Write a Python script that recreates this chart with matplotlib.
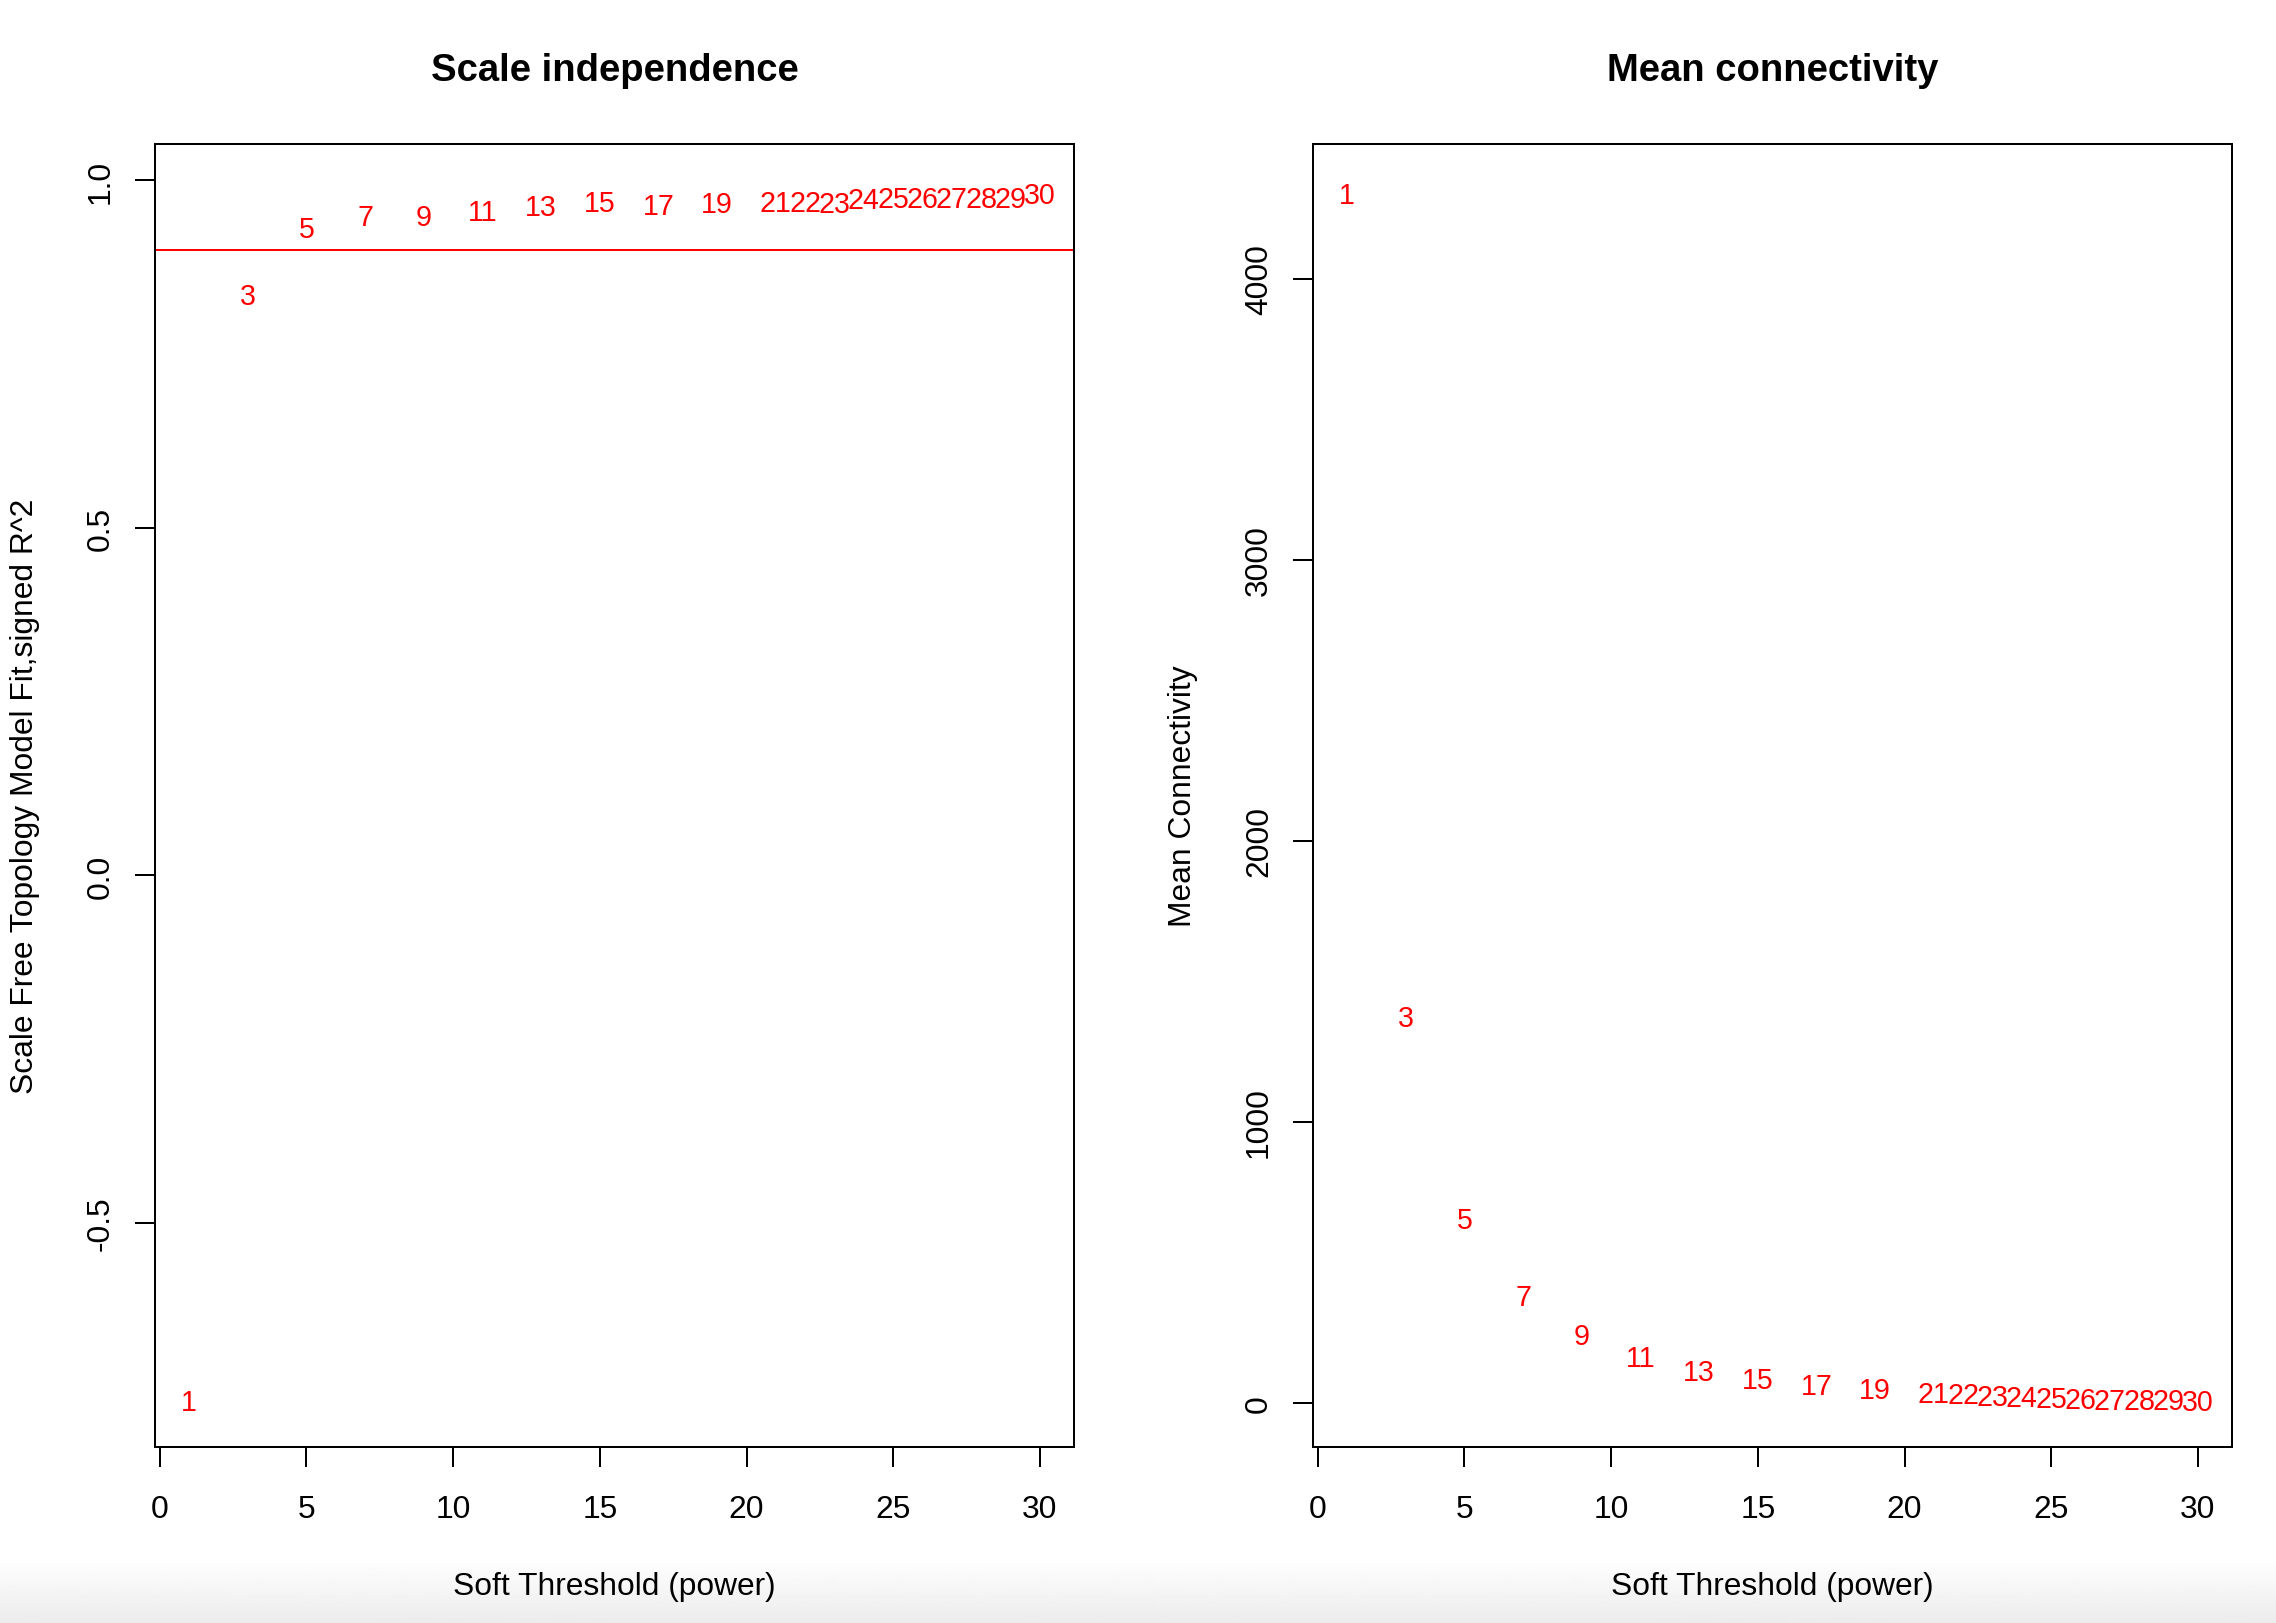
import matplotlib
matplotlib.use('Agg')
import matplotlib.pyplot as plt
import numpy as np

# ---- data ----
powers = [1, 3, 5, 7, 9, 11, 13, 15, 17, 19,
          21, 22, 23, 24, 25, 26, 27, 28, 29, 30]
scale_free_r2 = [-0.753, 0.838, 0.935, 0.952, 0.951, 0.959, 0.966, 0.972, 0.968, 0.970,
                 0.972, 0.972, 0.971, 0.976, 0.978, 0.977, 0.977, 0.978, 0.978, 0.983]
mean_connectivity = [4308, 1381, 661, 389, 248, 171, 121, 94, 71, 56,
                     42, 39, 32, 30, 24, 21, 18, 17, 16, 15]
r2_cutoff = 0.90

x_ticks = [0, 5, 10, 15, 20, 25, 30]
left_y_ticks = [-0.5, 0.0, 0.5, 1.0]
left_y_ticklabels = ['-0.5', '0.0', '0.5', '1.0']
right_y_ticks = [0, 1000, 2000, 3000, 4000]
right_y_ticklabels = ['0', '1000', '2000', '3000', '4000']

titles = ['Scale independence', 'Mean connectivity']
xlabel = 'Soft Threshold (power)'
ylabels = ['Scale Free Topology Model Fit,signed R^2', 'Mean Connectivity']

plt.rcParams['font.family'] = ['Liberation Sans', 'DejaVu Sans']

W, H = 2276, 1624
DPI = 100
fig = plt.figure(figsize=(W / DPI, H / DPI), dpi=DPI)
fig.patch.set_facecolor('white')


def px(v):
    return v * 72.0 / DPI


def r_range(vals):
    lo, hi = min(vals), max(vals)
    d = (hi - lo) * 0.04
    return lo - d, hi + d


# subtle grey gradient at the very bottom (screenshot artefact)
bg = fig.add_axes([0, 0, 1, 66 / H], zorder=-5)
grad = np.linspace(1.0, 0.925, 66).reshape(-1, 1)
bg.imshow(grad, cmap='gray', vmin=0, vmax=1, aspect='auto',
          extent=[0, 1, 0, 1], interpolation='bilinear')
bg.axis('off')

AX_W, AX_H = 919, 1303
ax_bottom = 1 - 1448 / H
ax1 = fig.add_axes([155 / W, ax_bottom, AX_W / W, AX_H / H])
ax2 = fig.add_axes([1313 / W, ax_bottom, AX_W / W, AX_H / H])

TICK_FS = 22.9
LAB_FS = 20.6


def style(ax, yt, ytl, title, ylabel):
    ax.set_facecolor('white')
    for s in ax.spines.values():
        s.set_linewidth(px(2))
        s.set_color('black')
    ax.set_xticks(x_ticks)
    ax.set_xticklabels([str(t) for t in x_ticks])
    ax.set_yticks(yt)
    ax.set_yticklabels(ytl)
    ax.tick_params(direction='out', length=px(20), width=px(2),
                   labelsize=TICK_FS, color='black', labelcolor='black')
    ax.tick_params(axis='x', pad=px(50))
    ax.tick_params(axis='y', pad=px(26))
    for lab in ax.get_xticklabels():
        lab.set_va('baseline')
    for lab in ax.get_yticklabels():
        lab.set(rotation=90, rotation_mode='anchor', ha='center', va='baseline')
    ax.set_xlabel(xlabel, fontsize=TICK_FS)
    ax.xaxis.label.set_va('baseline')
    ax.xaxis.set_label_coords(0.5, -147 / AX_H)
    ax.set_ylabel(ylabel, fontsize=TICK_FS)
    ax.yaxis.label.set(va='baseline', ha='center', rotation_mode='anchor')
    ax.yaxis.set_label_coords(-122 / AX_W, 0.5)
    ax.set_title(title, fontsize=27.5, fontweight='bold', pad=px(64))


# ---- left panel ----
ax1.set_xlim(*r_range(powers))
ax1.set_ylim(*r_range(scale_free_r2))
for p, v in zip(powers, scale_free_r2):
    ax1.text(p, v, str(p), color='red', fontsize=LAB_FS,
             ha='center', va='center_baseline')
ax1.axhline(r2_cutoff, color='red', lw=px(2))
style(ax1, left_y_ticks, left_y_ticklabels, titles[0], ylabels[0])

# ---- right panel ----
ax2.set_xlim(*r_range(powers))
ax2.set_ylim(*r_range(mean_connectivity))
for p, v in zip(powers, mean_connectivity):
    ax2.text(p, v, str(p), color='red', fontsize=LAB_FS,
             ha='center', va='center_baseline')
style(ax2, right_y_ticks, right_y_ticklabels, titles[1], ylabels[1])

fig.savefig('out.png', dpi=DPI, facecolor='white')
